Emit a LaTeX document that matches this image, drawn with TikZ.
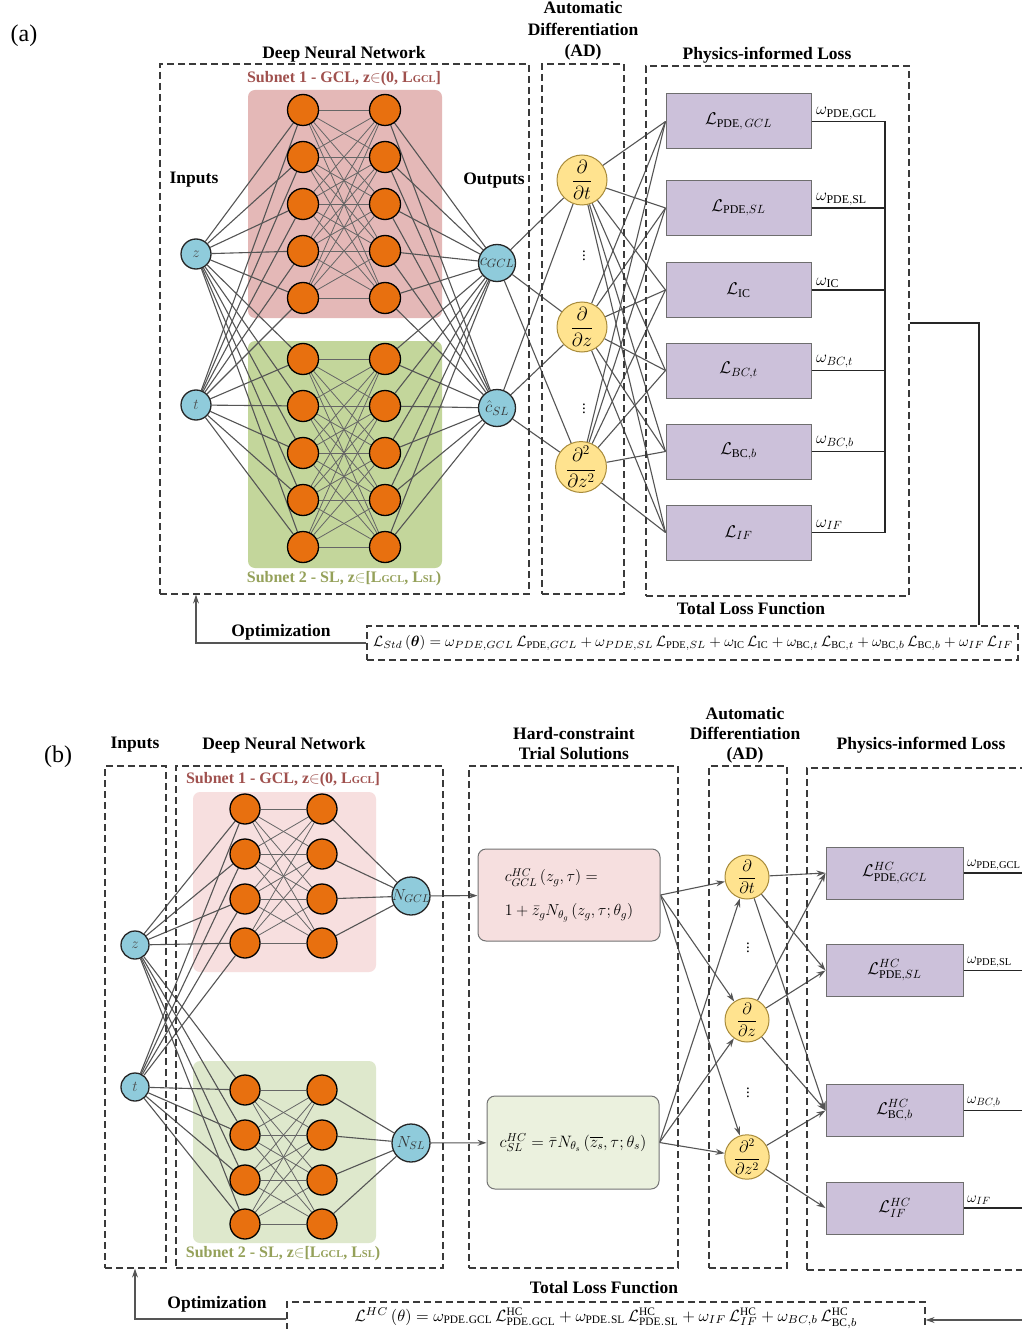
\RequirePackage{fix-cm}
\documentclass[tikz,border=0pt]{standalone}
\usepackage{amsmath}
\usepackage{graphicx}
\usepackage{fontspec}
\setmainfont{Liberation Serif}
\usetikzlibrary{arrows.meta}
\definecolor{orN}{HTML}{E8700F}
\definecolor{blN}{HTML}{8FCBDB}
\definecolor{goN}{HTML}{FFE38F}
\definecolor{goD}{HTML}{A88B3A}
\definecolor{lavN}{HTML}{CCC1DA}
\definecolor{lavD}{HTML}{6E6E6E}
\definecolor{pkA}{HTML}{E4B8B7}
\definecolor{gnA}{HTML}{C3D69B}
\definecolor{pkB}{HTML}{F7DFDF}
\definecolor{gnB}{HTML}{DEE8CC}
\definecolor{trG}{HTML}{F6DFDF}
\definecolor{trS}{HTML}{EBF1DE}
\definecolor{edgeC}{HTML}{555555}
\definecolor{dashC}{HTML}{3A3A3A}
\definecolor{sub1C}{HTML}{A0514E}
\definecolor{sub2C}{HTML}{95A15A}
\pgfdeclarelayer{bg}
\pgfdeclarelayer{edges}
\pgfsetlayers{bg,edges,main}
\newcommand{\tinycap}[1]{{\fontsize{10.5}{10.5}\selectfont #1}}
\tikzset{
  hid/.style={circle, draw=black, line width=1.3pt, fill=orN, minimum size=31pt, inner sep=0pt},
  hidb/.style={hid, minimum size=30pt},
  io/.style={circle, draw=black!85, line width=1.3pt, fill=blN, minimum size=30pt, inner sep=0pt, font=\fontsize{15}{15}\selectfont, text=black!70},
  adn/.style={circle, draw=goD, line width=1pt, fill=goN, minimum size=50pt, inner sep=0pt, font=\fontsize{19}{19}\selectfont},
  lbox/.style={rectangle, draw=lavD, line width=1pt, fill=lavN, minimum width=145pt, minimum height=55pt, inner sep=0pt, font=\fontsize{17}{17}\selectfont},
  conn/.style={draw=edgeC, line width=1.1pt},
  thin conn/.style={draw=edgeC!90, line width=0.8pt},
  arr/.style={conn, -{Stealth[length=9pt,width=6pt]}},
  dbox/.style={rectangle, draw=dashC, line width=1.2pt, dash pattern=on 7pt off 4pt, inner sep=0pt},
  ttl/.style={font=\fontsize{17.5}{21.5}\selectfont\bfseries, align=center, inner sep=0pt},
  sublab/.style={font=\fontsize{16}{16}\selectfont\bfseries, inner sep=0pt},
  wlab/.style={font=\fontsize{17}{17}\selectfont, anchor=south west, inner sep=1pt},
  jline/.style={draw=black!85, line width=1.3pt},
  trbox/.style={rectangle, rounded corners=8pt, draw=gray!90!black, line width=1pt, inner sep=0pt},
}
\begin{document}
\begin{tikzpicture}[x=1pt,y=-1pt]
\useasboundingbox (0,0) rectangle (1021,1329);
\begin{pgfonlayer}{bg}
\fill[white] (0,0) rectangle (1021,1329);
\fill[pkA, rounded corners=7pt] (248,90) rectangle (442,318);
\fill[gnA, rounded corners=7pt] (248,341) rectangle (442,568);
\fill[pkB, rounded corners=7pt] (193,792) rectangle (376,972);
\fill[gnB, rounded corners=7pt] (193,1061) rectangle (376,1243);
\end{pgfonlayer}

%================ (a) ================
\node[font=\fontsize{24}{24}\selectfont] (labA) at (24,36) {(a)};
\node[ttl] (tDnnA) at (344,54) {Deep Neural Network};
\node[ttl] (tAdA) at (583,31) {Automatic\\Differentiation\\(AD)};
\node[ttl] (tLossA) at (767,55) {Physics-informed Loss};
\node[ttl] (tInA) at (194,180) {Inputs};
\node[ttl] (tOutA) at (494,181) {Outputs};
\node[sublab, text=sub1C] (s1A) at (344,79) {Subnet 1 - GCL, z$\in$(0, L\tinycap{GCL}]};
\node[sublab, text=sub2C] (s2A) at (344,579) {Subnet 2 - SL, z$\in$[L\tinycap{GCL}, L\tinycap{SL})};

\node[dbox, minimum width=369pt, minimum height=530pt] (dnnA) at (344.5,329) {};
\node[dbox, minimum width=82pt, minimum height=530pt] (adA) at (583,329) {};
\node[dbox, minimum width=263pt, minimum height=530pt] (lossA) at (777.5,331) {};

\node[io] (zA) at (196,254) {$z$};
\node[io] (tA) at (196,405) {$t$};
\node[io, minimum size=37pt, label={[font=\fontsize{17}{17}\selectfont, text=black!80]center:$c_{GCL}$}] (cgA) at (497,263) {};
\node[io, minimum size=37pt, label={[font=\fontsize{17}{17}\selectfont, text=black!80]center:$\hat{c}_{SL}$}] (csA) at (497,408) {};

\foreach \y [count=\i] in {110,157,204,251,298,359,406,453,500,547} {
  \node[hid] (hA\i) at (303,\y) {};
  \node[hid] (kA\i) at (385,\y) {};
}

\node[adn] (dtA) at (582,180) {$\dfrac{\partial}{\partial t}$};
\node[adn] (dzA) at (582,327) {$\dfrac{\partial}{\partial z}$};
\node[adn] (dzzA) at (581,467) {$\dfrac{\partial^2}{\partial z^2}$};
\node[font=\fontsize{15}{15}\selectfont] (vd1A) at (584,253) {$\vdots$};
\node[font=\fontsize{15}{15}\selectfont] (vd2A) at (584,406) {$\vdots$};

\node[lbox] (LA1) at (738.5,121.5) {$\mathcal{L}_{\mathrm{PDE},\,GCL}$};
\node[lbox] (LA2) at (738.5,208) {$\mathcal{L}_{\mathrm{PDE},SL}$};
\node[lbox] (LA3) at (738.5,290) {$\mathcal{L}_{\mathrm{IC}}$};
\node[lbox] (LA4) at (738.5,370.5) {$\mathcal{L}_{BC,t}$};
\node[lbox] (LA5) at (738.5,451.5) {$\mathcal{L}_{\mathrm{BC},b}$};
\node[lbox] (LA6) at (738.5,532.5) {$\mathcal{L}_{IF}$};

\node[wlab] (wA1) at (815,121) {$\omega_{\mathrm{PDE,GCL}}$};
\node[wlab] (wA2) at (815,207) {$\omega_{\mathrm{PDE,SL}}$};
\node[wlab] (wA3) at (815,289) {$\omega_{\mathrm{IC}}$};
\node[wlab] (wA4) at (815,369) {$\omega_{BC,t}$};
\node[wlab] (wA5) at (815,450) {$\omega_{BC,b}$};
\node[wlab] (wA6) at (815,531) {$\omega_{IF}$};

\coordinate (jxA) at (885,0);
\foreach \k in {1,...,6} { \draw[jline] (LA\k.east) -- (LA\k.east -| jxA); }
\draw[jline] (LA1.east -| jxA) -- (LA6.east -| jxA);

\node[ttl] (tTotA) at (751,609) {Total Loss Function};
\node[dbox, minimum width=651pt, minimum height=34pt] (fA) at (692.5,643) {};
\node[inner sep=0pt] (fAt) at (693,643) {\resizebox{640pt}{!}{$\mathcal{L}_{Std}\left(\boldsymbol{\theta}\right)=\omega_{PDE,GCL}\,\mathcal{L}_{\mathrm{PDE},GCL}+\omega_{PDE,SL}\,\mathcal{L}_{\mathrm{PDE},SL}+\omega_{\mathrm{IC}}\,\mathcal{L}_{\mathrm{IC}}+\omega_{\mathrm{BC},t}\,\mathcal{L}_{\mathrm{BC},t}+\omega_{\mathrm{BC},b}\,\mathcal{L}_{\mathrm{BC},b}+\omega_{IF}\,\mathcal{L}_{IF}$}};

\coordinate (jA) at (979,323);
\draw[jline] (lossA.east |- jA) -- (jA) -- (jA |- fA.north);
\coordinate (oA) at (196,643);
\draw[arr] (fA.west) -- (oA) -- (oA |- dnnA.south);
\node[ttl] (optA) at (281,632) {Optimization};

\begin{pgfonlayer}{edges}
\foreach \i in {1,...,10} {
  \draw[conn] (zA) -- (hA\i);
  \draw[conn] (tA) -- (hA\i);
  \draw[conn] (kA\i) -- (cgA);
  \draw[conn] (kA\i) -- (csA);
}
\foreach \i in {1,...,5} { \foreach \j in {1,...,5} { \draw[thin conn] (hA\i) -- (kA\j); } }
\foreach \i in {6,...,10} { \foreach \j in {6,...,10} { \draw[thin conn] (hA\i) -- (kA\j); } }
\foreach \o in {cgA,csA} { \foreach \d in {dtA,dzA,dzzA} { \draw[conn] (\o) -- (\d); } }
\foreach \d in {dtA,dzA,dzzA} { \foreach \k in {1,...,6} { \draw[conn] (\d) -- (LA\k.west); } }
\end{pgfonlayer}

%================ (b) ================
\node[font=\fontsize{24}{24}\selectfont] (labB) at (58,757) {(b)};
\node[ttl] (tInB) at (135,745) {Inputs};
\node[ttl] (tDnnB) at (284,745) {Deep Neural Network};
\node[ttl, font=\fontsize{17.5}{20}\selectfont\bfseries] (tTrB) at (574,744) {Hard-constraint\\Trial Solutions};
\node[ttl, font=\fontsize{17.5}{20}\selectfont\bfseries] (tAdB) at (745,735) {Automatic\\Differentiation\\(AD)};
\node[ttl] (tLossB) at (921,745) {Physics-informed Loss};
\node[sublab, text=sub1C] (s1B) at (283,780) {Subnet 1 - GCL, z$\in$(0, L\tinycap{GCL}]};
\node[sublab, text=sub2C] (s2B) at (283,1254) {Subnet 2 - SL, z$\in$[L\tinycap{GCL}, L\tinycap{SL})};

\node[dbox, minimum width=61pt, minimum height=502pt] (inB) at (135.5,1017) {};
\node[dbox, minimum width=267pt, minimum height=502pt] (dnnB) at (309.5,1017) {};
\node[dbox, minimum width=209pt, minimum height=502pt] (trB) at (573.5,1017) {};
\node[dbox, minimum width=78pt, minimum height=502pt] (adB) at (748,1017) {};
\node[dbox, minimum width=233pt, minimum height=502pt] (lossB) at (923.5,1019) {};

\node[io, minimum size=28pt] (zB) at (135,945) {$z$};
\node[io, minimum size=28pt] (tB) at (135,1087) {$t$};
\node[io, minimum size=38pt, label={[font=\fontsize{16}{16}\selectfont, text=black!80]center:$N_{GCL}$}] (ngB) at (411,896) {};
\node[io, minimum size=38pt, label={[font=\fontsize{16}{16}\selectfont, text=black!80]center:$N_{SL}$}] (nsB) at (411,1143) {};

\foreach \y [count=\i] in {809,854,899,943,1090,1135,1180,1224} {
  \node[hidb] (hB\i) at (245,\y) {};
  \node[hidb] (kB\i) at (322,\y) {};
}

\node[trbox, fill=trG, minimum width=182pt, minimum height=92pt, align=left, font=\fontsize{16}{34}\selectfont] (tgB) at (569,895) {$c^{HC}_{GCL}\left(z_g,\tau\right)=$\\$1+\bar{z}_g N_{\theta_g}\left(z_g,\tau;\theta_g\right)$};
\node[trbox, fill=trS, minimum width=172pt, minimum height=93pt, font=\fontsize{16.5}{16.5}\selectfont] (tsB) at (573,1142.5) {$c^{HC}_{SL}=\bar{\tau}N_{\theta_s}\left(\overline{z_s},\tau;\theta_s\right)$};

\node[adn, minimum size=44pt, font=\fontsize{16.5}{16.5}\selectfont] (dtB) at (747,877) {$\dfrac{\partial}{\partial t}$};
\node[adn, minimum size=44pt, font=\fontsize{16.5}{16.5}\selectfont] (dzB) at (747,1020) {$\dfrac{\partial}{\partial z}$};
\node[adn, minimum size=44pt, font=\fontsize{16.5}{16.5}\selectfont] (dzzB) at (747,1157) {$\dfrac{\partial^2}{\partial z^2}$};
\node[font=\fontsize{15}{15}\selectfont] (vd1B) at (748,945) {$\vdots$};
\node[font=\fontsize{15}{15}\selectfont] (vd2B) at (748,1090) {$\vdots$};

\node[lbox, minimum width=137pt, minimum height=52pt] (LB1) at (894.5,873) {$\mathcal{L}^{HC}_{\mathrm{PDE},GCL}$};
\node[lbox, minimum width=137pt, minimum height=52pt] (LB2) at (894.5,970.5) {$\mathcal{L}^{HC}_{\mathrm{PDE},SL}$};
\node[lbox, minimum width=137pt, minimum height=52pt] (LB3) at (894.5,1110.5) {$\mathcal{L}^{HC}_{\mathrm{BC},b}$};
\node[lbox, minimum width=137pt, minimum height=52pt] (LB4) at (894.5,1208) {$\mathcal{L}^{HC}_{IF}$};

\node[wlab, font=\fontsize{15}{15}\selectfont] (wB1) at (966,872) {$\omega_{\mathrm{PDE,GCL}}$};
\node[wlab, font=\fontsize{15}{15}\selectfont] (wB2) at (966,969) {$\omega_{\mathrm{PDE,SL}}$};
\node[wlab, font=\fontsize{15}{15}\selectfont] (wB3) at (966,1109) {$\omega_{BC,b}$};
\node[wlab, font=\fontsize{15}{15}\selectfont] (wB4) at (966,1206) {$\omega_{IF}$};
\coordinate (wendB) at (1030,0);
\foreach \k in {1,...,4} { \draw[jline] (LB\k.east) -- (LB\k.east -| wendB); }

\node[ttl] (tTotB) at (604,1288) {Total Loss Function};
\node[dbox, minimum width=638pt, minimum height=34pt] (fB) at (606,1319) {};
\node[inner sep=0pt] (fBt) at (606,1318) {\resizebox{503pt}{!}{$\mathcal{L}^{HC}\left(\theta\right)=\omega_{\mathrm{PDE.GCL}}\,\mathcal{L}^{\mathrm{HC}}_{\mathrm{PDE.GCL}}+\omega_{\mathrm{PDE.SL}}\,\mathcal{L}^{\mathrm{HC}}_{\mathrm{PDE.SL}}+\omega_{IF}\,\mathcal{L}^{\mathrm{HC}}_{IF}+\omega_{BC,b}\,\mathcal{L}^{\mathrm{HC}}_{\mathrm{BC},b}$}};

\coordinate (rinB) at (1030,1320);
\draw[arr] (rinB) -- (fB.east |- rinB);
\coordinate (oB) at (135,1319);
\draw[arr] (fB.west) -- (oB) -- (oB |- inB.south);
\node[ttl] (optB) at (217,1304) {Optimization};

\begin{pgfonlayer}{edges}
\foreach \i in {1,...,8} {
  \draw[conn] (zB) -- (hB\i);
  \draw[conn] (tB) -- (hB\i);
}
\foreach \i in {1,...,4} { \foreach \j in {1,...,4} { \draw[thin conn] (hB\i) -- (kB\j); } \draw[conn] (kB\i) -- (ngB); }
\foreach \i in {5,...,8} { \foreach \j in {5,...,8} { \draw[thin conn] (hB\i) -- (kB\j); } \draw[conn] (kB\i) -- (nsB); }
\draw[arr] (ngB) -- (tgB);
\draw[arr] (nsB) -- (tsB);
\foreach \d in {dtB,dzB,dzzB} { \draw[arr] (tgB.east) -- (\d); \draw[arr] (tsB.east) -- (\d); }
\foreach \d in {dtB,dzB} { \foreach \k in {1,2,3} { \draw[arr] (\d) -- (LB\k.west); } }
\draw[arr] (dzzB) -- (LB3.west);
\draw[arr] (dzzB) -- (LB4.west);
\end{pgfonlayer}
\end{tikzpicture}
\end{document}
